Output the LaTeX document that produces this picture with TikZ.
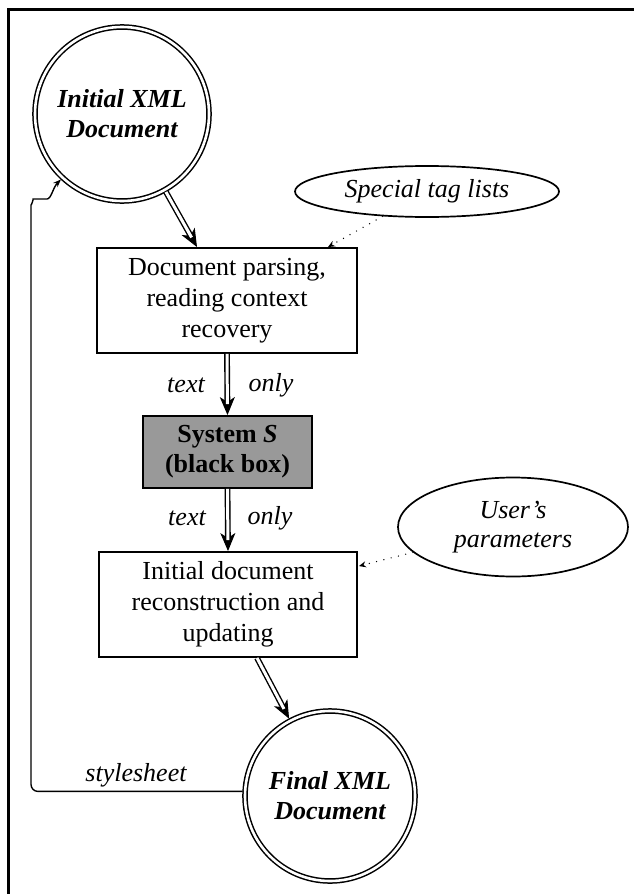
\documentclass[tikz,border=0pt]{standalone}
\usepackage{fontspec}
\setmainfont{Liberation Serif}
\usetikzlibrary{arrows.meta,shapes.geometric,calc}

\begin{document}
\begin{tikzpicture}[x=1pt,y=1pt,
  font=\fontsize{26}{31}\selectfont,
  docnode/.style={circle, draw, double, line width=1.5pt, double distance=2.6pt,
    align=center, inner sep=0pt, outer sep=2.5pt,
    font=\fontsize{26}{30}\selectfont\bfseries\itshape},
  procbox/.style={draw, line width=1.9pt, align=center, inner sep=0pt},
  blackbox/.style={procbox, fill=black!40, font=\fontsize{26}{30}\selectfont\bfseries},
  inputell/.style={ellipse, draw, line width=1.7pt, align=center, inner sep=1pt,
    font=\fontsize{26}{29}\selectfont\itshape},
  flowtip/.style={line width=1pt, -{Stealth[length=18pt,width=15pt,inset=5pt]}},
  flowshaft/.style={double, line width=1.4pt, double distance=3pt, shorten >=11pt},
  hint/.style={line width=1.4pt, dash pattern=on 0pt off 7.5pt, line cap=round,
    -{Stealth[length=7pt,width=6pt]}},
  feedback/.style={line width=1.4pt, -{Stealth[length=8pt,width=6pt]}},
  lbl/.style={font=\fontsize{26}{30}\selectfont\itshape, inner sep=0pt}
]
\useasboundingbox (0,0) rectangle (634,-894);

% frame
\draw[line width=2.8pt] (8.5,-894) -- (8.5,-9.3) -- (634,-9.3);

% documents
\node[docnode, minimum size=174pt] (init) at (122,-114) {Initial XML\\Document};
\node[docnode, minimum size=170pt] (final) at (330,-796) {Final XML\\Document};

% processing steps
\node[procbox, minimum width=260pt, minimum height=105pt] (parse) at (227,-300.5)
  {Document parsing,\\reading context\\recovery};
\node[blackbox, minimum width=169pt, minimum height=72pt] (sys) at (227.5,-452)
  {System \textit{S}\\(black box)};
\node[procbox, minimum width=258pt, minimum height=105pt] (rebuild) at (228,-604.5)
  {Initial document\\reconstruction and\\updating};

% side inputs
\node[inputell, minimum width=264pt, minimum height=51pt] (tags) at (427,-191.5)
  {Special tag lists};
\node[inputell, minimum width=230pt, minimum height=99pt] (user) at (513,-527)
  {User's\\parameters};

% main flow (double arrows)
\draw[flowtip] (init) -- ($(parse.north)+(-30,0)$);
\draw[flowshaft] (init) -- ($(parse.north)+(-30,0)$);
\draw[flowtip] (parse.south) -- (sys.north);
\draw[flowshaft] (parse.south) -- (sys.north);
\draw[flowtip] (sys.south) -- (rebuild.north);
\draw[flowshaft] (sys.south) -- (rebuild.north);
\draw[flowtip] ($(rebuild.south)+(29,0)$) -- (final);
\draw[flowshaft] ($(rebuild.south)+(29,0)$) -- (final);

\node[lbl] (t1) at (186,-385) {text};
\node[lbl] (o1) at (271,-385) {only};
\node[lbl] (t2) at (187,-518) {text};
\node[lbl] (o2) at (270,-518) {only};

% dotted inputs
\draw[hint] (tags) -- ($(parse.north east)+(-30,0)$);
\draw[hint] (user) -- ($(rebuild.north east)+(1,-15)$);

% stylesheet feedback loop
\coordinate (ret) at (31,-212);
\coordinate (kink) at (40,-199);
\draw[feedback, rounded corners=7pt] (final.177) -| (ret)
  to[out=90,in=180] (kink) to[out=0,in=225] (init.227);
\node[lbl] (ss) at (136,-775) {stylesheet};
\end{tikzpicture}
\end{document}
